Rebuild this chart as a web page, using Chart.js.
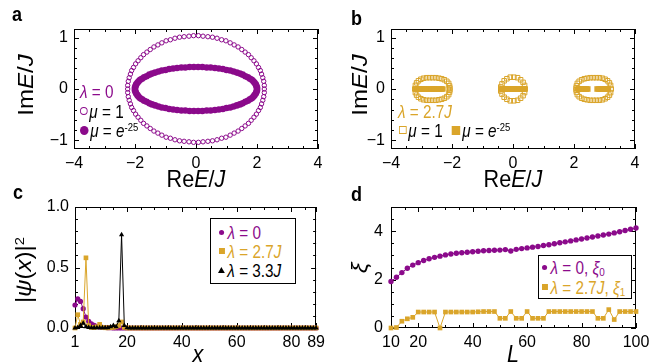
<!DOCTYPE html>
<html>
<head>
<meta charset="utf-8">
<script src="https://cdn.jsdelivr.net/npm/chart.js"></script>
<style>
  body { margin: 0; background: #fff; }
  #fig { position: relative; width: 658px; height: 364px; overflow: hidden; color: #000;
         font-family: 'Liberation Sans', Arial, sans-serif; }
  canvas { position: absolute; }
  .t { position: absolute; white-space: nowrap; line-height: 1; }
  .lbl { font-weight: bold; font-size: 20px; transform: scaleX(0.9); transform-origin: left top; }
  .ttl { font-size: 24px; }
  .ctr { transform: translateX(-50%) scaleX(0.9); }
  .rot { transform: translate(-50%, -50%) rotate(-90deg) scaleY(0.9); }
  .leg { font-size: 18px; transform: scaleX(0.85); transform-origin: left center; }
  .box { position: absolute; border: 1px solid #000; box-sizing: border-box; background: #fff; }
  .mk { display: inline-block; vertical-align: middle; box-sizing: border-box; margin-right: 2px; position: relative; top: -2px; }
  sup { font-size: 0.62em; vertical-align: 0.55em; line-height: 0; }
  sub { font-size: 0.65em; vertical-align: -0.2em; line-height: 0; }
</style>
</head>
<body>
<div id="fig">
  <canvas id="ca" width="330" height="185" style="left:0;top:0"></canvas>
  <canvas id="cb" width="328" height="185" style="left:330px;top:0"></canvas>
  <canvas id="cc" width="330" height="179" style="left:0;top:185px"></canvas>
  <canvas id="cd" width="328" height="179" style="left:330px;top:185px"></canvas>

  <div class="t lbl" style="left:12px;top:4px">a</div>
  <div class="t lbl" style="left:351px;top:8px">b</div>
  <div class="t lbl" style="left:13px;top:182px">c</div>
  <div class="t lbl" style="left:351px;top:184px">d</div>

  <div class="t ttl ctr" style="left:196px;top:167px">Re<i>E</i>/<i>J</i></div>
  <div class="t ttl ctr" style="left:513px;top:167px">Re<i>E</i>/<i>J</i></div>
  <div class="t ttl rot" style="left:26px;top:85px">Im<i>E</i>/<i>J</i></div>
  <div class="t ttl rot" style="left:360px;top:85px">Im<i>E</i>/<i>J</i></div>
  <div class="t ttl rot" style="left:24px;top:270px">|<i>ψ</i>(<i>x</i>)|<sup>2</sup></div>
  <div class="t ttl rot" style="left:360px;top:268px"><i>ξ</i></div>
  <div class="t ttl ctr" style="left:198px;top:342px"><i>x</i></div>
  <div class="t ttl ctr" style="left:513px;top:342px"><i>L</i></div>

  <!-- legend a (marker widths pre-stretched to undo the 0.85 text squeeze) -->
  <div class="t leg" style="left:80px;top:83px;color:#8b0a8b"><i>λ</i> = 0</div>
  <div class="t leg" style="left:80px;top:103px"><span class="mk" style="width:9px;height:8px;border:1.4px solid #8b0a8b;border-radius:50%"></span><i>μ</i> = 1</div>
  <div class="t leg" style="left:80px;top:122px"><span class="mk" style="width:10px;height:9px;background:#8b0a8b;border-radius:50%"></span><i>μ</i> = <i>e</i><sup>-25</sup></div>

  <!-- legend b -->
  <div class="t leg" style="left:398px;top:103px;color:#daa52a"><i>λ</i> = 2.7<i>J</i></div>
  <div class="t leg" style="left:399px;top:122px"><span class="mk" style="width:9px;height:8px;border:1.4px solid #daa52a"></span><i>μ</i> = 1 <span class="mk" style="width:10px;height:9px;background:#daa52a;margin-left:6px"></span><i>μ</i> = <i>e</i><sup>-25</sup></div>

  <!-- legend c -->
  <div class="box" style="left:210px;top:218px;width:86px;height:66px"></div>
  <div class="t leg" style="left:219px;top:224px;color:#8b0a8b"><span class="mk" style="width:6px;height:5px;background:#8b0a8b;border-radius:50%;margin-right:4px"></span><i>λ</i> = 0</div>
  <div class="t leg" style="left:219px;top:243px;color:#daa52a"><span class="mk" style="width:7px;height:6px;background:#daa52a;margin-right:3px"></span><i>λ</i> = 2.7<i>J</i></div>
  <div class="t leg" style="left:218px;top:262px"><span class="mk" style="width:0;height:0;border-left:4px solid transparent;border-right:4px solid transparent;border-bottom:6px solid #000;margin-right:3px"></span><i>λ</i> = 3.3<i>J</i></div>

  <!-- legend d -->
  <div class="box" style="left:538px;top:255px;width:94px;height:44px"></div>
  <div class="t leg" style="left:542px;top:259px;color:#8b0a8b"><span class="mk" style="width:6px;height:5px;background:#8b0a8b;border-radius:50%;margin-right:4px"></span><i>λ</i> = 0, <i>ξ</i><sub>0</sub></div>
  <div class="t leg" style="left:542px;top:279px;color:#daa52a"><span class="mk" style="width:7px;height:6px;background:#daa52a;margin-right:3px"></span><i>λ</i> = 2.7<i>J</i>, <i>ξ</i><sub>1</sub></div>
</div>

<script>
// ---- a: spectrum, lambda = 0 ----
const ringOpenRe = [2.24,2.24,2.22,2.19,2.15,2.11,2.05,1.98,1.90,1.81,1.72,1.61,1.50,1.38,1.25,1.12,0.98,0.84,0.69,0.54,0.39,0.23,0.08,
  -0.08,-0.23,-0.39,-0.54,-0.69,-0.84,-0.98,-1.12,-1.25,-1.38,-1.50,-1.61,-1.72,-1.81,-1.90,-1.98,-2.05,-2.11,-2.15,-2.19,-2.22,-2.24,
  -2.24,
  -2.24,-2.22,-2.19,-2.15,-2.11,-2.05,-1.98,-1.90,-1.81,-1.72,-1.61,-1.50,-1.38,-1.25,-1.12,-0.98,-0.84,-0.69,-0.54,-0.39,-0.23,-0.08,
  0.08,0.23,0.39,0.54,0.69,0.84,0.98,1.12,1.25,1.38,1.50,1.61,1.72,1.81,1.90,1.98,2.05,2.11,2.15,2.19,2.22,2.24];
const ringOpenIm = [0,0.07,0.15,0.22,0.29,0.36,0.42,0.49,0.55,0.61,0.67,0.72,0.77,0.82,0.86,0.90,0.94,0.96,0.99,1.01,1.02,1.03,1.04,
  1.04,1.03,1.02,1.01,0.99,0.96,0.94,0.90,0.86,0.82,0.77,0.72,0.67,0.61,0.55,0.49,0.42,0.36,0.29,0.22,0.15,0.07,
  0,
  -0.07,-0.15,-0.22,-0.29,-0.36,-0.42,-0.49,-0.55,-0.61,-0.67,-0.72,-0.77,-0.82,-0.86,-0.90,-0.94,-0.96,-0.99,-1.01,-1.02,-1.03,-1.04,
  -1.04,-1.03,-1.02,-1.01,-0.99,-0.96,-0.94,-0.90,-0.86,-0.82,-0.77,-0.72,-0.67,-0.61,-0.55,-0.49,-0.42,-0.36,-0.29,-0.22,-0.15,-0.07];
const ringFillRe = [2.00,2.00,1.98,1.96,1.92,1.88,1.83,1.77,1.70,1.62,1.53,1.44,1.34,1.23,1.12,1.00,0.88,0.75,0.62,0.48,0.35,0.21,0.07,
  -0.07,-0.21,-0.35,-0.48,-0.62,-0.75,-0.88,-1.00,-1.12,-1.23,-1.34,-1.44,-1.53,-1.62,-1.70,-1.77,-1.83,-1.88,-1.92,-1.96,-1.98,-2.00,
  -2.00,
  -2.00,-1.98,-1.96,-1.92,-1.88,-1.83,-1.77,-1.70,-1.62,-1.53,-1.44,-1.34,-1.23,-1.12,-1.00,-0.88,-0.75,-0.62,-0.48,-0.35,-0.21,-0.07,
  0.07,0.21,0.35,0.48,0.62,0.75,0.88,1.00,1.12,1.23,1.34,1.44,1.53,1.62,1.70,1.77,1.83,1.88,1.92,1.96,1.98,2.00];
const ringFillIm = [0,0.03,0.06,0.09,0.12,0.15,0.18,0.20,0.23,0.25,0.28,0.30,0.32,0.34,0.36,0.37,0.39,0.40,0.41,0.42,0.42,0.43,0.43,
  0.43,0.43,0.42,0.42,0.41,0.40,0.39,0.37,0.36,0.34,0.32,0.30,0.28,0.25,0.23,0.20,0.18,0.15,0.12,0.09,0.06,0.03,
  0,
  -0.03,-0.06,-0.09,-0.12,-0.15,-0.18,-0.20,-0.23,-0.25,-0.28,-0.30,-0.32,-0.34,-0.36,-0.37,-0.39,-0.40,-0.41,-0.42,-0.42,-0.43,-0.43,
  -0.43,-0.43,-0.42,-0.42,-0.41,-0.40,-0.39,-0.37,-0.36,-0.34,-0.32,-0.30,-0.28,-0.25,-0.23,-0.20,-0.18,-0.15,-0.12,-0.09,-0.06,-0.03];

// ---- b: spectrum, lambda = 2.7J ----
const sqOpenRe = [-3.22,-3.20,-3.16,-3.10,-3.02,-2.93,-2.83,-2.73,-2.63,-2.53,-2.43,-2.34,-2.25,-2.17,-2.11,-2.08,-2.07,
  -3.20,-3.16,-3.10,-3.02,-2.93,-2.83,-2.73,-2.63,-2.53,-2.43,-2.34,-2.25,-2.17,-2.11,-2.08,-2.07,-2.12,
  0.40,0.38,0.33,0.25,0.15,0.03,-0.09,-0.20,-0.29,-0.36,-0.40,-0.40,-0.36,-0.29,-0.20,-0.09,0.03,0.15,0.25,0.33,0.38,
  3.22,3.20,3.16,3.10,3.02,2.93,2.83,2.73,2.63,2.53,2.43,2.34,2.25,2.17,2.11,2.08,2.07,
  3.20,3.16,3.10,3.02,2.93,2.83,2.73,2.63,2.53,2.43,2.34,2.25,2.17,2.11,2.08,2.07,2.12];
const sqOpenIm = [0,0.07,0.12,0.16,0.19,0.21,0.22,0.22,0.22,0.22,0.21,0.20,0.18,0.15,0.11,0.06,0.02,
  -0.07,-0.12,-0.16,-0.19,-0.21,-0.22,-0.22,-0.22,-0.22,-0.21,-0.20,-0.18,-0.15,-0.11,-0.06,-0.02,0,
  0,0.07,0.13,0.18,0.22,0.23,0.23,0.20,0.16,0.10,0.04,-0.04,-0.10,-0.16,-0.20,-0.23,-0.23,-0.22,-0.18,-0.13,-0.07,
  0,0.07,0.12,0.16,0.19,0.21,0.22,0.22,0.22,0.22,0.21,0.20,0.18,0.15,0.11,0.06,0.02,
  -0.07,-0.12,-0.16,-0.19,-0.21,-0.22,-0.22,-0.22,-0.22,-0.21,-0.20,-0.18,-0.15,-0.11,-0.06,-0.02,0];
const sqFillRe = [-3.19,-3.13,-3.08,-3.02,-2.97,-2.91,-2.86,-2.80,-2.75,-2.69,-2.64,-2.58,-2.53,-2.47,-2.42,-2.36,-2.31,
  -0.40,-0.35,-0.30,-0.25,-0.20,-0.15,-0.10,-0.05,0,0.05,0.10,0.15,0.20,0.25,0.30,0.35,0.38,
  2.15,2.20,2.25,2.30,2.35,2.40,2.45,2.76,2.82,2.88,2.94,3.00,3.06,3.12];
const sqFillIm = [0,0,0,0,0,0,0,0,0,0,0,0,0,0,0,0,0,
  0,0,0,0,0,0,0,0,0,0,0,0,0,0,0,0,0,
  0,0,0,0,0,0,0,0,0,0,0,0,0,0];

// ---- c: |psi(x)|^2 along the chain ----
const sites = [1,2,3,4,5,6,7,8,9,10,11,12,13,14,15,16,17,18,19,20,21,22,23,24,25,26,27,28,29,30,
  31,32,33,34,35,36,37,38,39,40,41,42,43,44,45,46,47,48,49,50,51,52,53,54,55,56,57,58,59,60,
  61,62,63,64,65,66,67,68,69,70,71,72,73,74,75,76,77,78,79,80,81,82,83,84,85,86,87,88,89];
const psiLam0 = [0.19,0.24,0.22,0.16,0.09,0.055,0.035,0.022,0.014,0.009,0.006,0.004,0.003,0.002,0.001,0.001,
  0,0,0,0,0,0,0,0,0,0,0,0,0,0,0,0,0,0,0,0,0,0,0,0,0,0,0,0,0,0,0,0,0,0,0,0,0,0,0,0,0,0,0,0,
  0,0,0,0,0,0,0,0,0,0,0,0,0,0,0,0,0,0,0,0,0,0,0,0,0,0,0,0,0];
const psiLam27 = [0,0.11,0.03,0.05,0.58,0.02,0.005,0.003,0.01,0.03,0.005,0.002,0.001,0.003,0.005,0.01,0.02,0.05,0.005,
  0,0,0,0,0,0,0,0,0,0,0,0,0,0,0,0,0,0,0,0,0,0,0,0,0,0,0,0,0,0,0,0,0,0,0,0,0,0,0,0,
  0,0,0,0,0,0,0,0,0,0,0,0,0,0,0,0,0,0,0,0,0,0,0,0,0,0,0,0,0,0];
const psiLam33 = [0,0.005,0.02,0.04,0.01,0.005,0.002,0.002,0.002,0.002,0.002,0.002,0.003,0.01,0.02,0.01,0.06,0.77,0.02,0.003,
  0,0,0,0,0,0,0,0,0,0,0,0,0,0,0,0,0,0,0,0,0,0,0,0,0,0,0,0,0,0,0,0,0,0,0,0,0,0,0,0,
  0,0,0,0,0,0,0,0,0,0,0,0,0,0,0,0,0,0,0,0,0,0,0,0,0,0,0,0,0];

// ---- d: localization length vs system size ----
const sizes = [10,12,14,16,18,20,22,24,26,28,30,32,34,36,38,40,42,44,46,48,50,52,54,56,58,60,
  62,64,66,68,70,72,74,76,78,80,82,84,86,88,90,92,94,96,98,100];
const xi0 = [1.92,2.10,2.29,2.47,2.60,2.70,2.79,2.86,2.92,2.97,3.02,3.06,3.09,3.11,3.13,3.15,3.17,3.19,3.20,3.21,3.22,3.24,
  3.18,3.25,3.28,3.31,3.34,3.37,3.41,3.44,3.48,3.52,3.56,3.60,3.64,3.68,3.72,3.76,3.80,3.84,3.88,3.93,3.98,4.03,4.08,4.13];
const xi1 = [0,0.02,0.28,0.38,0.44,0.66,0.66,0.66,0.66,0,0.66,0.66,0.66,0.66,0.66,0.66,0.67,0.68,0.68,0.68,0.40,0.40,
  0.68,0.40,0.40,0.68,0.40,0.40,0.40,0.68,0.68,0.68,0.68,0.68,0.68,0.68,0.68,0.68,0.40,0.40,0.76,0.35,0.68,0.68,0.68,0.68];

// tick values
const reTicks = [-4, -2, 0, 2, 4];
const imTicks = [-1, 0, 1];
const siteTicks = [1, 20, 40, 60, 80, 89];
const psiTicks = [0, 0.5, 1];
const sizeTicks = [10, 20, 40, 60, 80, 100];
const xiTicks = [0, 2, 4];

const PURPLE = '#8b0a8b';
const GOLD = '#daa52a';
const TICKFONT = { family: "'Liberation Sans', Arial, sans-serif", size: 16 };

const pts = (xs, ys) => xs.map((x, i) => ({ x: x, y: ys[i] }));
const minus = v => (v < 0 ? '\u2212' + Math.abs(v) : String(v));

// frame with inward ticks on all four sides
const frameTicks = {
  id: 'frameTicks',
  defaults: { xStep: 1, yStep: 1 },
  beforeDatasetsDraw(chart, args, opts) {
    const { ctx, chartArea: a } = chart;
    const sx = chart.scales.x, sy = chart.scales.y;
    const steps = (lo, hi, st) => {
      const out = [];
      for (let k = Math.ceil(lo / st - 1e-9); k * st <= hi + 1e-9; k++) out.push(k * st);
      return out;
    };
    const majX = sx.ticks.map(t => t.value), majY = sy.ticks.map(t => t.value);
    ctx.save();
    ctx.strokeStyle = '#000';
    ctx.lineWidth = 1;
    ctx.beginPath();
    const tx = (v, len) => {
      const p = Math.round(sx.getPixelForValue(v)) + 0.5;
      ctx.moveTo(p, a.bottom); ctx.lineTo(p, a.bottom - len);
      ctx.moveTo(p, a.top); ctx.lineTo(p, a.top + len);
    };
    const ty = (v, len) => {
      const p = Math.round(sy.getPixelForValue(v)) + 0.5;
      ctx.moveTo(a.left, p); ctx.lineTo(a.left + len, p);
      ctx.moveTo(a.right, p); ctx.lineTo(a.right - len, p);
    };
    steps(sx.min, sx.max, opts.xStep).forEach(v => { if (!majX.some(m => Math.abs(m - v) < 1e-6)) tx(v, 3); });
    steps(sy.min, sy.max, opts.yStep).forEach(v => { if (!majY.some(m => Math.abs(m - v) < 1e-6)) ty(v, 3); });
    majX.forEach(v => tx(v, 5));
    majY.forEach(v => ty(v, 5));
    ctx.stroke();
    ctx.strokeRect(Math.round(a.left) + 0.5, Math.round(a.top) + 0.5,
                   Math.round(a.right - a.left) - 1, Math.round(a.bottom - a.top) - 1);
    ctx.restore();
  }
};
Chart.register(frameTicks);

function axis(min, max, ticks, fmt, pad, fit, horizontal) {
  return {
    type: 'linear', min: min, max: max,
    grid: { display: false, drawTicks: false },
    border: { display: false },
    afterBuildTicks: s => { s.ticks = ticks.map(v => ({ value: v })); },
    afterFit: s => { if (horizontal) s.height = fit; else s.width = fit; },
    ticks: { font: TICKFONT, color: '#000', padding: pad, maxRotation: 0, autoSkip: false, callback: v => fmt(v) }
  };
}

function options(c) {
  return {
    responsive: false,
    animation: false,
    events: [],
    layout: { autoPadding: false, padding: { left: 0, top: c.top, right: c.right, bottom: 0 } },
    plugins: { legend: { display: false }, tooltip: { enabled: false },
               frameTicks: { xStep: c.xStep, yStep: c.yStep } },
    scales: {
      x: axis(c.x[0], c.x[1], c.xTicks, c.xFmt, c.xPad, c.xh, true),
      y: axis(c.y[0], c.y[1], c.yTicks, c.yFmt, c.yPad, c.yw, false)
    }
  };
}

new Chart(document.getElementById('ca'), {
  type: 'scatter',
  data: { datasets: [
    { data: pts(ringFillRe, ringFillIm), pointStyle: 'circle', pointRadius: 3.3,
      pointBackgroundColor: PURPLE, pointBorderWidth: 0 },
    { data: pts(ringOpenRe, ringOpenIm), pointStyle: 'circle', pointRadius: 2.2,
      pointBackgroundColor: 'rgba(0,0,0,0)', pointBorderColor: PURPLE, pointBorderWidth: 1 }
  ] },
  options: options({ top: 29, right: 12, xh: 36, yw: 74, x: [-4, 4], y: [-1.17, 1.17],
    xTicks: reTicks, yTicks: imTicks, xFmt: minus, yFmt: minus, xPad: 5, yPad: 6, xStep: 0.5, yStep: 0.2 })
});

new Chart(document.getElementById('cb'), {
  type: 'scatter',
  data: { datasets: [
    { data: pts(sqOpenRe, sqOpenIm), pointStyle: 'rect', pointRadius: 3.2,
      pointBackgroundColor: 'rgba(0,0,0,0)', pointBorderColor: GOLD, pointBorderWidth: 1 },
    { data: pts(sqFillRe, sqFillIm), pointStyle: 'rect', pointRadius: 4,
      pointBackgroundColor: GOLD, pointBorderWidth: 0 }
  ] },
  options: options({ top: 29, right: 23, xh: 36, yw: 61, x: [-4, 4], y: [-1.17, 1.17],
    xTicks: reTicks, yTicks: imTicks, xFmt: minus, yFmt: minus, xPad: 5, yPad: 6, xStep: 0.5, yStep: 0.2 })
});

new Chart(document.getElementById('cc'), {
  type: 'scatter',
  data: { datasets: [
    { data: pts(sites, psiLam33), showLine: true, borderColor: '#000', borderWidth: 1, clip: false,
      pointStyle: 'triangle', pointRadius: 3, pointBackgroundColor: '#000', pointBorderWidth: 0 },
    { data: pts(sites, psiLam27), showLine: true, borderColor: GOLD, borderWidth: 1, clip: false,
      pointStyle: 'rect', pointRadius: 3.3, pointBackgroundColor: GOLD, pointBorderWidth: 0 },
    { data: pts(sites, psiLam0), showLine: true, borderColor: PURPLE, borderWidth: 1, clip: false,
      pointStyle: 'circle', pointRadius: 2.6, pointBackgroundColor: PURPLE, pointBorderWidth: 0 }
  ] },
  options: options({ top: 22, right: 8, xh: 36, yw: 75, x: [1, 89], y: [0, 1],
    xTicks: siteTicks, yTicks: psiTicks, xFmt: v => String(v), yFmt: v => v.toFixed(1),
    xPad: 5, yPad: 6, xStep: 5, yStep: 0.1 })
});

new Chart(document.getElementById('cd'), {
  type: 'scatter',
  data: { datasets: [
    { data: pts(sizes, xi1), showLine: true, borderColor: GOLD, borderWidth: 1, clip: false,
      pointStyle: 'rect', pointRadius: 3.3, pointBackgroundColor: GOLD, pointBorderWidth: 0 },
    { data: pts(sizes, xi0), showLine: true, borderColor: PURPLE, borderWidth: 1, clip: false,
      pointStyle: 'circle', pointRadius: 2.7, pointBackgroundColor: PURPLE, pointBorderWidth: 0 }
  ] },
  options: options({ top: 22, right: 22, xh: 36, yw: 61, x: [10, 100], y: [0, 5],
    xTicks: sizeTicks, yTicks: xiTicks, xFmt: v => String(v), yFmt: v => String(v),
    xPad: 5, yPad: 8, xStep: 5, yStep: 0.5 })
});
</script>
</body>
</html>
